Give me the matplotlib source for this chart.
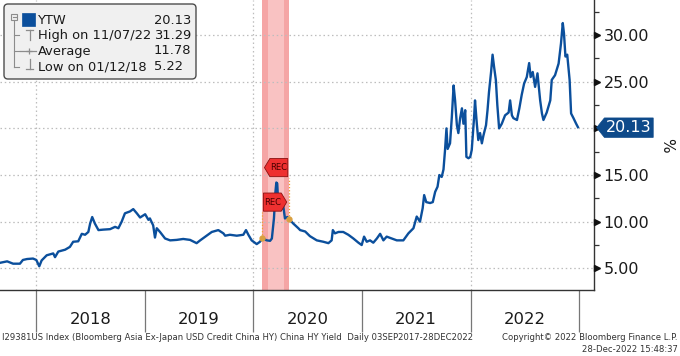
import matplotlib
matplotlib.use("Agg")
import matplotlib.pyplot as plt
import matplotlib.dates as mdates
import matplotlib.transforms as mtransforms
from matplotlib.patches import FancyBboxPatch, Rectangle
from matplotlib.lines import Line2D
from matplotlib.path import Path
from matplotlib.ticker import MultipleLocator, FixedLocator, NullFormatter
import numpy as np
import pandas as pd

# ---------------- data ----------------
dates = [
    '2017-09-03', '2017-09-26', '2017-10-16', '2017-11-08', '2017-11-18', '2017-12-02', '2017-12-22',
    '2018-01-02', '2018-01-12', '2018-01-20', '2018-02-06', '2018-02-28', '2018-03-06', '2018-03-17',
    '2018-04-09', '2018-04-25', '2018-05-06', '2018-05-23', '2018-06-04', '2018-06-15', '2018-06-26',
    '2018-07-02', '2018-07-09', '2018-07-18', '2018-07-30', '2018-08-15', '2018-09-07', '2018-09-24',
    '2018-10-05', '2018-10-16', '2018-10-27', '2018-11-13', '2018-11-24', '2018-12-06', '2018-12-17',
    '2019-01-03', '2019-01-14', '2019-01-19', '2019-01-30', '2019-02-05', '2019-02-11', '2019-02-22',
    '2019-03-11', '2019-03-28', '2019-04-19', '2019-05-11', '2019-06-03', '2019-06-25', '2019-07-07',
    '2019-07-29', '2019-08-15', '2019-09-06', '2019-09-23', '2019-09-29', '2019-10-15', '2019-11-07',
    '2019-11-29', '2019-12-08', '2019-12-16', '2019-12-27', '2020-01-13', '2020-01-24', '2020-02-01',
    '2020-02-16', '2020-02-27', '2020-03-04', '2020-03-11', '2020-03-16', '2020-03-19', '2020-03-22',
    '2020-03-26', '2020-04-03', '2020-04-10', '2020-04-17', '2020-04-25', '2020-05-02', '2020-05-15',
    '2020-06-01', '2020-06-07', '2020-06-24', '2020-07-10', '2020-08-02', '2020-08-24', '2020-09-10',
    '2020-09-21', '2020-09-25', '2020-10-02', '2020-10-14', '2020-10-30', '2020-11-16', '2020-12-03',
    '2020-12-20', '2020-12-31', '2021-01-08', '2021-01-17', '2021-01-28', '2021-02-08', '2021-02-20',
    '2021-03-03', '2021-03-14', '2021-03-25', '2021-04-11', '2021-04-28', '2021-05-20', '2021-06-06',
    '2021-06-23', '2021-07-04', '2021-07-15', '2021-07-24', '2021-07-29', '2021-08-05', '2021-08-18',
    '2021-08-27', '2021-09-04', '2021-09-12', '2021-09-18', '2021-09-26', '2021-10-02', '2021-10-07',
    '2021-10-12', '2021-10-16', '2021-10-24', '2021-10-30', '2021-11-05', '2021-11-10', '2021-11-16',
    '2021-11-21', '2021-11-27', '2021-12-03', '2021-12-08', '2021-12-14', '2021-12-18', '2021-12-25',
    '2021-12-31', '2022-01-05', '2022-01-13', '2022-01-16', '2022-01-22', '2022-01-27', '2022-02-02',
    '2022-02-08', '2022-02-13', '2022-02-22', '2022-02-27', '2022-03-04', '2022-03-11', '2022-03-16',
    '2022-03-21', '2022-03-27', '2022-04-01', '2022-04-07', '2022-04-16', '2022-04-27', '2022-05-09',
    '2022-05-14', '2022-05-20', '2022-05-25', '2022-06-06', '2022-06-14', '2022-06-22', '2022-06-30',
    '2022-07-09', '2022-07-17', '2022-07-22', '2022-07-29', '2022-08-06', '2022-08-14', '2022-08-23',
    '2022-08-29', '2022-09-03', '2022-09-14', '2022-09-26', '2022-10-01', '2022-10-12', '2022-10-24',
    '2022-11-01', '2022-11-07', '2022-11-11', '2022-11-16', '2022-11-22', '2022-11-30', '2022-12-05',
    '2022-12-13', '2022-12-22', '2022-12-28',
]
ytw = [
    5.60, 5.75, 5.50, 5.50, 5.90, 6.00, 6.05,
    5.90, 5.22, 5.85, 6.40, 6.60, 6.20, 6.80,
    7.00, 7.30, 7.85, 7.90, 8.70, 8.60, 8.90,
    9.80, 10.50, 9.80, 9.10, 9.15, 9.20, 9.45,
    9.30, 10.00, 10.90, 11.10, 11.35, 10.90, 10.45,
    10.80, 10.20, 10.35, 9.60, 8.30, 9.30, 8.90,
    8.20, 8.00, 8.05, 8.15, 8.05, 7.70, 8.00,
    8.50, 8.90, 9.10, 8.75, 8.50, 8.60, 8.50,
    8.60, 9.10, 8.60, 8.00, 7.60, 7.85, 8.20,
    8.00, 7.95, 8.20, 10.35, 13.20, 14.20, 14.10,
    11.60, 11.25, 12.00, 10.35, 10.50, 10.25, 9.80,
    9.30, 9.10, 8.95, 8.45, 8.00, 7.85, 7.70,
    8.00, 9.10, 8.75, 8.90, 8.90, 8.60, 8.20,
    7.75, 7.50, 8.40, 7.85, 8.00, 7.75, 8.20,
    8.70, 8.00, 8.40, 8.20, 8.00, 8.00, 8.75,
    9.30, 10.55, 10.00, 11.45, 12.85, 12.10, 12.00,
    12.10, 13.20, 13.75, 15.00, 14.80, 15.60, 17.60,
    20.00, 17.80, 18.40, 21.20, 24.60, 23.00, 20.35,
    19.50, 21.10, 22.15, 20.50, 21.95, 16.95, 16.80,
    16.95, 17.70, 21.25, 23.00, 20.50, 18.75, 19.50,
    18.40, 19.20, 20.35, 21.95, 23.90, 26.05, 27.90,
    26.60, 25.20, 22.50, 20.00, 20.50, 21.40, 21.70,
    23.00, 21.40, 21.10, 20.90, 22.15, 23.60, 24.80,
    25.50, 27.00, 25.50, 26.05, 24.45, 25.90, 23.00,
    21.60, 20.90, 21.70, 23.00, 25.20, 25.70, 26.95,
    29.10, 31.29, 30.20, 27.70, 27.90, 25.20, 21.60,
    21.10, 20.50, 20.13,
]

last_value = 20.13
high_value, high_date = 31.29, '11/07/22'
avg_value = 11.78
low_value, low_date = 5.22, '01/12/18'

rec_start, rec_end = '2020-02-01', '2020-04-30'
rec_flag_levels = [12.1, 15.8]          # centre heights of the two REC tags
years = ['2018', '2019', '2020', '2021', '2022']
year_bounds = ['2018', '2019', '2020', '2021', '2022', '2023']
grid_years = ['2018', '2020', '2022']
y_major = [5, 10, 15, 20, 25, 30]

x_range = ('2017-09-02', '2023-02-20')
y_range = (2.68, 33.76)

# ---------------- style ----------------
W, H = 680, 356
BLUE = '#0B4F9C'
GRID = '#BDBDBD'
plt.rcParams['font.family'] = ['DejaVu Sans']

fig = plt.figure(figsize=(W / 100, H / 100), dpi=100)
fig.patch.set_facecolor('white')
ax = fig.add_axes([0, 1 - 290 / H, 594 / W, 290 / H])
pix = mtransforms.Affine2D().scale(1 / W, -1 / H).translate(0, 1) + fig.transFigure

d = pd.to_datetime(dates)
ax.set_xlim(pd.Timestamp(x_range[0]), pd.Timestamp(x_range[1]))
ax.set_ylim(*y_range)

# recession band (soft edges)
rs, re_ = pd.Timestamp(rec_start), pd.Timestamp(rec_end)
ax.axvspan(rs, re_, color='#F5A5A5', lw=0, zorder=0.5)
span = re_ - rs
ax.axvspan(rs + span * 0.2, re_ - span * 0.2, color='#F9C2C2', lw=0, zorder=0.6)

# grid
for yv in y_major:
    ax.axhline(yv, color=GRID, lw=0.9, ls=(0, (1.2, 2.2)), zorder=1)
for gy in grid_years:
    ax.axvline(pd.Timestamp(gy + '-01-01'), color=GRID, lw=0.9, ls=(0, (1.2, 2.2)), zorder=1)

# main line
ax.plot(d, ytw, color=BLUE, lw=1.7, zorder=3, solid_joinstyle='round')

# spines
for s in ['top', 'left']:
    ax.spines[s].set_visible(False)
for s in ['right', 'bottom']:
    ax.spines[s].set_color('#333333')
    ax.spines[s].set_linewidth(1.0)

# x axis: long separators at year bounds, labels centred mid-year
ax.xaxis.set_major_locator(FixedLocator([mdates.date2num(pd.Timestamp(y + '-01-01')) for y in year_bounds]))
ax.xaxis.set_major_formatter(NullFormatter())
ax.xaxis.set_minor_locator(FixedLocator([mdates.date2num(pd.Timestamp(y + '-07-02')) for y in years]))
ax.set_xticklabels(years, minor=True)
ax.tick_params(axis='x', which='major', length=30, width=0.9, color='#777777', direction='out')
ax.tick_params(axis='x', which='minor', length=0, pad=16, labelsize=11.8, labelcolor='#1a1a1a')

# y axis on the right
ax.yaxis.tick_right()
ax.set_yticks(y_major)
ax.set_yticklabels(['' if v == 20 else f'{v:.2f}' for v in y_major])
ax.yaxis.set_minor_locator(MultipleLocator(2.5))
ax.tick_params(axis='y', which='major', length=0, pad=7, labelsize=11.5, labelcolor='#1a1a1a')
ax.tick_params(axis='y', which='minor', length=3.5, width=0.9, color='#333333', direction='out')
tri_tr = (mtransforms.blended_transform_factory(ax.transAxes, ax.transData)
          + mtransforms.ScaledTranslation(3 / 100, 0, fig.dpi_scale_trans))
ax.plot([1] * len(y_major), y_major, marker='>', ls='none', ms=4.5, color='#111111',
        transform=tri_tr, clip_on=False, zorder=5)
fig.text(667 / W, 1 - 145 / H, '%', rotation=-90, ha='center', va='center', fontsize=11, color='#1a1a1a')


def tag_style(direction, padx, pady, tipfrac):
    def style(x0, y0, width, height, mutation_size):
        px, py = padx * mutation_size, pady * mutation_size
        xa, xb = x0 - px, x0 + width + px
        ya, yb = y0 - py, y0 + height + py
        tip = tipfrac * (yb - ya)
        ym = (ya + yb) / 2
        if direction == 'left':
            verts = [(xa, ya), (xb, ya), (xb, yb), (xa, yb), (xa - tip, ym)]
        else:
            verts = [(xa, ya), (xb, ya), (xb + tip, ym), (xb, yb), (xa, yb)]
        verts.append(verts[0])
        codes = [Path.MOVETO] + [Path.LINETO] * (len(verts) - 2) + [Path.CLOSEPOLY]
        return Path(verts, codes)
    return style


# last value tag
blend = mtransforms.blended_transform_factory(ax.transAxes, ax.transData)
ax.annotate(f'{last_value:.2f}', xy=(1, last_value), xycoords=blend, xytext=(12, -0.5),
            textcoords='offset pixels', ha='left', va='center', fontsize=11.5, color='white',
            bbox=dict(boxstyle=tag_style('left', 0.1, 0.14, 0.4), fc='#0E4A8A', ec='#0E4A8A', lw=0.5),
            annotation_clip=False, zorder=6)

# REC tags with connectors
dnum = mdates.date2num(d)
for i, (rdate, direction) in enumerate([(rs, 'right'), (re_, 'left')]):
    rv = float(np.interp(mdates.date2num(rdate), dnum, ytw))
    flag_y = rec_flag_levels[i]
    ax.plot([rdate, rdate], [rv, flag_y - 1.1], color='#F0A030', lw=0.9, ls=(0, (1, 1.5)), zorder=4)
    ax.plot([rdate], [rv], marker='o', ms=3.5, color='#D9A040', zorder=4)
    if direction == 'right':
        ax.annotate('REC', xy=(rdate, flag_y), xytext=(1.5, 0), textcoords='offset pixels',
                    ha='left', va='center', fontsize=6, color='#4a0000',
                    bbox=dict(boxstyle=tag_style('right', 0.05, 0.55, 0.3), fc='#EE3030', ec='#8a1010', lw=0.6),
                    zorder=6)
    else:
        ax.annotate('REC', xy=(rdate, flag_y), xytext=(-1.5, 0), textcoords='offset pixels',
                    ha='right', va='center', fontsize=6, color='#4a0000',
                    bbox=dict(boxstyle=tag_style('left', 0.05, 0.55, 0.3), fc='#EE3030', ec='#8a1010', lw=0.6),
                    zorder=6)

# ---------------- legend box ----------------
leg = FancyBboxPatch((4, 4), 192, 75, boxstyle='round,pad=0,rounding_size=4', transform=pix,
                     fc='#F0F0F0', ec='#4d4d4d', lw=1.0, zorder=10)
fig.add_artist(leg)
TREE = '#8c8c8c'


def pline(xs, ys, **kw):
    fig.add_artist(Line2D(xs, ys, transform=pix, zorder=11, **kw))


fig.add_artist(Rectangle((11, 14), 6, 6, transform=pix, fc='none', ec=TREE, lw=0.8, zorder=11))
pline([12.5, 15.5], [17, 17], color=TREE, lw=0.8)
pline([14, 14], [20, 67], color=TREE, lw=0.8)
for yy in [35, 51, 67]:
    pline([14, 19], [yy, yy], color=TREE, lw=0.8)
fig.add_artist(Rectangle((22, 13), 12.5, 12.5, transform=pix, fc=BLUE, ec=BLUE, lw=0.5, zorder=11))
pline([26, 33], [29.5, 29.5], color=TREE, lw=0.9)
pline([29.5, 29.5], [29.5, 40], color=TREE, lw=0.9)
pline([20, 36], [51, 51], color=TREE, lw=0.9)
pline([29], [51], color=TREE, marker='+', ms=4, mew=0.9)
pline([29.5, 29.5], [59, 69], color=TREE, lw=0.9)
pline([26, 33], [69, 69], color=TREE, lw=0.9)

rows = [('YTW', f'{last_value:.2f}', 20),
        (f'High on {high_date}', f'{high_value:.2f}', 35.5),
        ('Average', f'{avg_value:.2f}', 51),
        (f'Low on {low_date}', f'{low_value:.2f}', 66.5)]
for lab, val, yy in rows:
    fig.text(38, yy, lab, transform=pix, ha='left', va='center', fontsize=9.4, color='#1a1a1a', zorder=12)
    fig.text(154, yy, val, transform=pix, ha='left', va='center', fontsize=9.4, color='#1a1a1a', zorder=12)

# ---------------- footer ----------------
fig.text(2, 337, 'I29381US Index (Bloomberg Asia Ex-Japan USD Credit China HY) China HY Yield  Daily 03SEP2017-28DEC2022',
         transform=pix, ha='left', va='center', fontsize=6.1, color='#333333')
fig.text(678, 337, 'Copyright\u00a9 2022 Bloomberg Finance L.P.', transform=pix, ha='right', va='center',
         fontsize=6.1, color='#333333')
fig.text(678, 349, '28-Dec-2022 15:48:37', transform=pix, ha='right', va='center',
         fontsize=6.1, color='#333333')

fig.savefig('out.png', dpi=100, facecolor='white')
